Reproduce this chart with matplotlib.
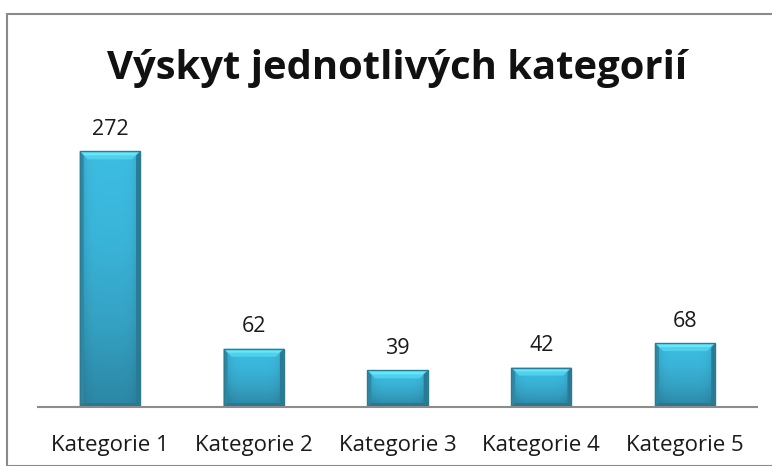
import matplotlib
matplotlib.use("Agg")
import matplotlib.pyplot as plt
import numpy as np
from matplotlib.patches import Rectangle, Polygon
from matplotlib.colors import LinearSegmentedColormap

categories = ["Kategorie 1", "Kategorie 2", "Kategorie 3", "Kategorie 4", "Kategorie 5"]
values = [272, 62, 39, 42, 68]
title = "Výskyt jednotlivých kategorií"

W, H = 772, 466
fig = plt.figure(figsize=(W / 100, H / 100), dpi=100)
fig.patch.set_facecolor("white")
FAM = ["Open Sans", "DejaVu Sans"]

# outer frame
fig.add_artist(Rectangle((7 / W, 0), (W + 10) / W, (H - 14) / H, transform=fig.transFigure,
                         fill=False, edgecolor="#8a8a8a", lw=1.5))

left, right = 38, 757
bottom_px, top_px = 407, 125
ax = fig.add_axes([left / W, 1 - bottom_px / H, (right - left) / W, (bottom_px - top_px) / H])
ax.set_xlim(-0.5, len(categories) - 0.5)
ax.set_ylim(0, 300)
for s in ["top", "right", "left"]:
    ax.spines[s].set_visible(False)
ax.spines["bottom"].set_color("#8c8c8c")
ax.spines["bottom"].set_linewidth(1.5)
ax.spines["bottom"].set_zorder(3.5)
ax.set_yticks([])
ax.set_xticks(range(len(categories)))
ax.set_xticklabels(categories, fontsize=16, family=FAM, color="#1a1a1a")
ax.tick_params(axis="x", length=0, pad=20)

bars = ax.bar(range(len(categories)), values, width=0.42, color="#36a9cb",
              edgecolor="none", linewidth=0, zorder=2)

px_y = 300 / (bottom_px - top_px)  # data units per pixel (y)
px_x = (len(categories)) / (right - left)  # data units per pixel (x)

cmap = LinearSegmentedColormap.from_list("b", ["#2c87a5", "#35a2c4", "#3ab5da", "#3dbde2"])
for b, v in zip(bars, values):
    x0, w, h = b.get_x(), b.get_width(), b.get_height()
    yy = np.linspace(0, 1, 100)
    xx = np.linspace(0, 1, 60)[None, :]
    vert = np.array(cmap(yy))[:, None, :3]
    horiz = 1 - 0.15 * (np.abs(xx - 0.5) * 2) ** 5
    img = np.clip(vert * horiz[..., None], 0, 1)
    im = ax.imshow(img, extent=[x0, x0 + w, 0, h], origin="lower", aspect="auto",
                   zorder=2.5, interpolation="bilinear")
    im.set_clip_path(b)
    bx, by = 4 * px_x, 4 * px_y
    # side bevels (darker)
    ax.add_patch(Polygon([[x0, 0], [x0 + bx, by], [x0 + bx, h - by], [x0, h]],
                         closed=True, facecolor="#2e88a4", edgecolor="none", zorder=2.6))
    ax.add_patch(Polygon([[x0 + w, 0], [x0 + w - bx, by], [x0 + w - bx, h - by], [x0 + w, h]],
                         closed=True, facecolor="#2a7a94", edgecolor="none", zorder=2.6))
    # bottom bevel
    ax.add_patch(Polygon([[x0, 0], [x0 + w, 0], [x0 + w - bx, by], [x0 + bx, by]],
                         closed=True, facecolor="#2a7790", edgecolor="none", zorder=2.6))
    # top bevel highlight
    tby = 8 * px_y
    tbx = 8 * px_x
    ax.add_patch(Polygon([[x0, h], [x0 + w, h], [x0 + w - tbx, h - tby], [x0 + tbx, h - tby]],
                         closed=True, facecolor="#4fd0ec", edgecolor="none", zorder=2.7))
    ax.add_patch(Polygon([[x0 + 2 * px_x, h - 1 * px_y], [x0 + w - 2 * px_x, h - 1 * px_y],
                          [x0 + w - 5 * px_x, h - 4 * px_y], [x0 + 5 * px_x, h - 4 * px_y]],
                         closed=True, facecolor="#66e6fa", edgecolor="none", zorder=2.75))
    ax.add_patch(Rectangle((x0, 0), w, h, fill=False, edgecolor="#2b7c93", lw=1.0, zorder=2.9))
    ax.text(b.get_x() + w / 2, h + 12, str(v), ha="center", va="bottom", fontsize=15.5,
            family=FAM, color="#1a1a1a")

fig.text(397 / W, 1 - 68 / H, title, ha="center", va="center", fontsize=28.8, fontweight="bold",
         family=FAM, color="#111111")

fig.savefig("out.png", dpi=100)
